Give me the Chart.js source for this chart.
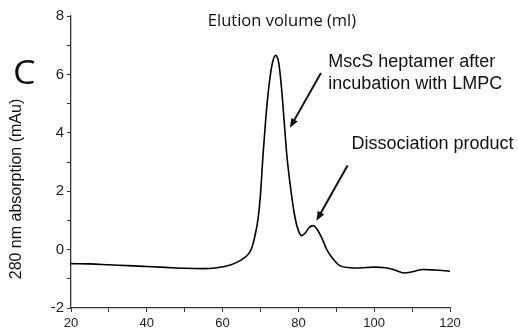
<!DOCTYPE html>
<html>
<head>
<meta charset="utf-8">
<script src="https://cdn.jsdelivr.net/npm/chart.js@4/dist/chart.umd.min.js"></script>
<style>
  html, body { margin: 0; padding: 0; background: #fff; }
  #wrap { width: 518px; height: 332px; }
</style>
</head>
<body>
<div id="wrap"><canvas id="elutionChart" width="518" height="332"></canvas></div>
<script>
// elution volume (ml) and absorbance at 280 nm (mAu)
const volume = [20, 25, 30, 35, 40, 45, 50, 55, 58, 60, 62, 64, 65.5, 67, 67.7, 68.5, 69.4, 70, 70.7, 71.4, 72.1, 73, 74, 74.8, 75.6, 76.3, 76.9, 77.8, 79.1, 80, 80.8, 81.7, 82.8, 83.9, 85, 86.1, 87.5, 88.8, 90.9, 93.6, 96, 100, 103, 105, 108, 110, 112.9, 116, 120];
const absorbance = [-0.48, -0.49, -0.52, -0.55, -0.58, -0.61, -0.64, -0.65, -0.63, -0.59, -0.53, -0.42, -0.3, -0.12, 0.06, 0.45, 1.1, 1.9, 3.3, 4.5, 5.45, 6.3, 6.65, 6.4, 5.45, 4.3, 3.3, 2.25, 1.1, 0.65, 0.48, 0.55, 0.75, 0.82, 0.68, 0.42, 0.0, -0.26, -0.55, -0.62, -0.63, -0.6, -0.62, -0.68, -0.8, -0.76, -0.68, -0.7, -0.74];
const xTicks = [20, 40, 60, 80, 100, 120];
const yTicks = [-2, 0, 2, 4, 6, 8];

// callouts: text lines anchored in data units, arrows from tail to head
const calloutText = [
  { x: 87.86, y: 6.24, text: 'MscS heptamer after' },
  { x: 87.86, y: 5.5, text: 'incubation with LMPC' },
  { x: 94.0, y: 3.46, text: 'Dissociation product' }
];
const calloutArrows = [
  { from: [85.94, 6.05], to: [77.77, 4.17] },
  { from: [92.97, 2.88], to: [84.75, 0.99] }
];

const extras = {
  id: 'extras',
  afterDatasetsDraw(chart) {
    const ctx = chart.ctx;
    const xs = chart.scales.x, ys = chart.scales.y;
    ctx.save();
    ctx.fillStyle = '#111';
    ctx.strokeStyle = '#111';

    // top caption
    ctx.font = '16.5px "Open Sans"';
    ctx.textAlign = 'center';
    ctx.textBaseline = 'alphabetic';
    ctx.fillText('Elution volume (ml)', 282, 25.5);

    // panel letter
    ctx.save();
    ctx.translate(13, 84);
    ctx.scale(1.12, 1);
    ctx.font = '32px "Open Sans"';
    ctx.textAlign = 'left';
    ctx.fillText('C', 0, 0);
    ctx.restore();

    // y axis title
    ctx.save();
    ctx.translate(20.5, 189);
    ctx.rotate(-Math.PI / 2);
    ctx.font = '16px "Liberation Sans"';
    ctx.textAlign = 'center';
    ctx.fillText('280 nm absorption (mAu)', 0, 0);
    ctx.restore();

    ctx.font = '18px "Liberation Sans"';
    ctx.textAlign = 'left';
    calloutText.forEach(t => {
      ctx.fillText(t.text, xs.getPixelForValue(t.x), ys.getPixelForValue(t.y));
    });

    ctx.lineWidth = 2;
    calloutArrows.forEach(a => {
      const x1 = xs.getPixelForValue(a.from[0]), y1 = ys.getPixelForValue(a.from[1]);
      const x2 = xs.getPixelForValue(a.to[0]), y2 = ys.getPixelForValue(a.to[1]);
      const ang = Math.atan2(y2 - y1, x2 - x1);
      const head = 10, spread = 0.38;
      const bx = x2 - (head - 2) * Math.cos(ang), by = y2 - (head - 2) * Math.sin(ang);
      ctx.beginPath();
      ctx.moveTo(x1, y1);
      ctx.lineTo(bx, by);
      ctx.stroke();
      ctx.beginPath();
      ctx.moveTo(x2, y2);
      ctx.lineTo(x2 - head * Math.cos(ang - spread), y2 - head * Math.sin(ang - spread));
      ctx.lineTo(x2 - head * Math.cos(ang + spread), y2 - head * Math.sin(ang + spread));
      ctx.closePath();
      ctx.fill();
    });
    ctx.restore();
  }
};

const ctx = document.getElementById('elutionChart').getContext('2d');
new Chart(ctx, {
  type: 'line',
  data: {
    datasets: [{
      data: volume.map((v, i) => ({ x: v, y: absorbance[i] })),
      borderColor: '#000',
      borderWidth: 1.6,
      pointRadius: 0,
      fill: false,
      cubicInterpolationMode: 'monotone'
    }]
  },
  options: {
    responsive: false,
    animation: false,
    layout: { padding: { top: 16, right: 68, left: 0, bottom: 0 } },
    plugins: { legend: { display: false }, tooltip: { enabled: false } },
    scales: {
      x: {
        type: 'linear',
        min: 20,
        max: 120,
        afterFit: s => { s.height = 24; },
        border: { display: true, color: '#333', width: 1.3 },
        grid: { drawOnChartArea: false, drawTicks: true, tickLength: 4, color: '#333' },
        ticks: {
          stepSize: 10,
          padding: 4,
          maxRotation: 0,
          autoSkip: false,
          color: '#222',
          font: { family: 'Liberation Sans', size: 13 },
          callback: v => xTicks.includes(v) ? String(v) : ''
        }
      },
      y: {
        min: -2,
        max: 8,
        afterFit: s => { s.width = 71; },
        border: { display: true, color: '#333', width: 1.3 },
        grid: { drawOnChartArea: false, drawTicks: true, tickLength: 4, color: '#333' },
        ticks: {
          stepSize: 1,
          padding: 3,
          autoSkip: false,
          color: '#222',
          font: { family: 'Liberation Sans', size: 15 },
          callback: v => yTicks.includes(v) ? String(v) : ''
        }
      }
    }
  },
  plugins: [extras]
});
</script>
</body>
</html>
